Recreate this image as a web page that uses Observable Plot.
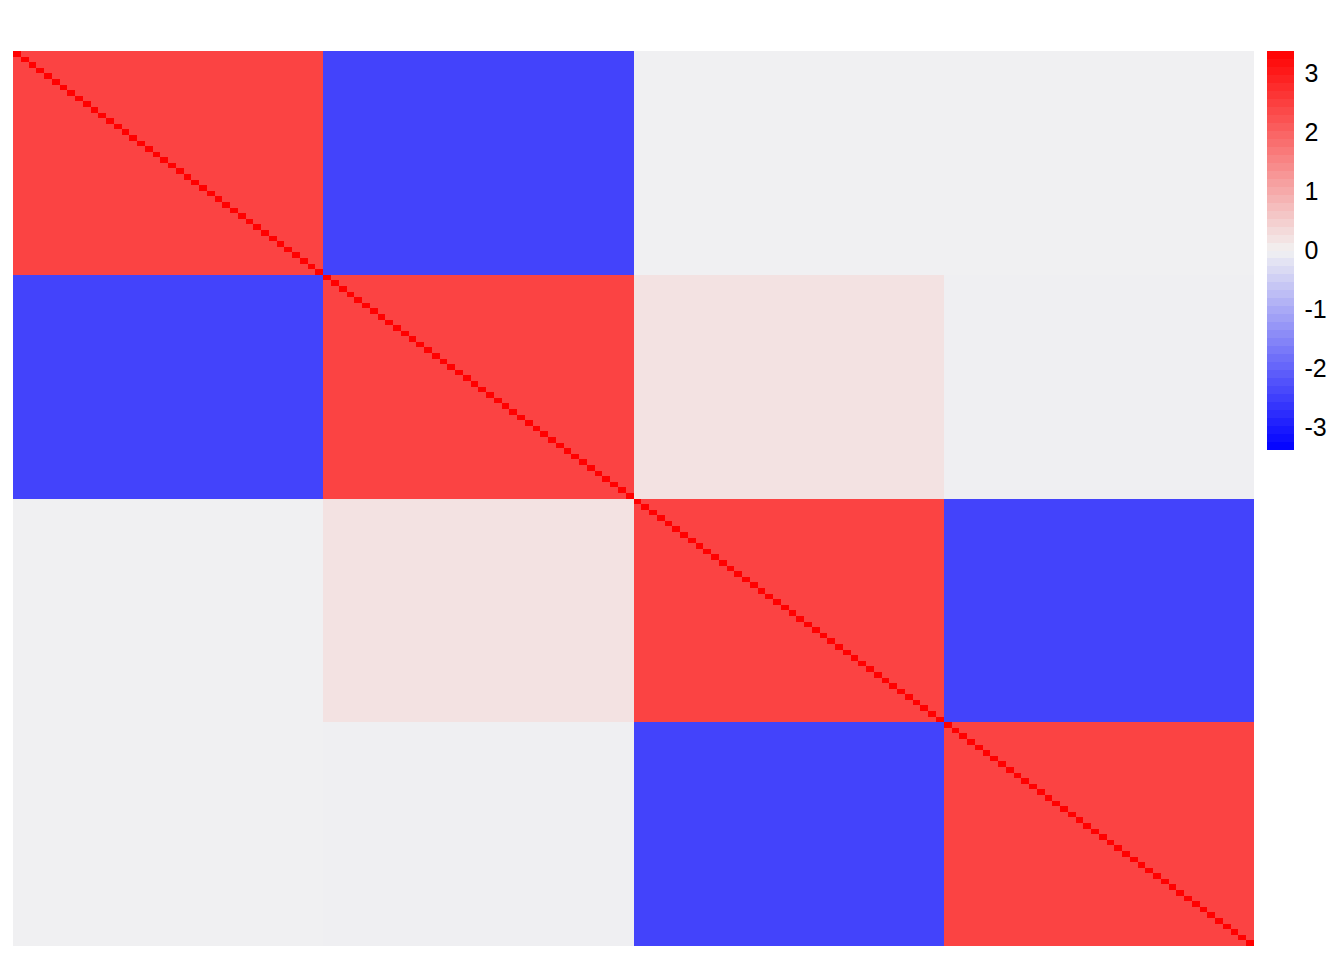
<!DOCTYPE html>
<html>
<head>
<meta charset="utf-8">
<script src="https://cdn.jsdelivr.net/npm/d3@7"></script>
<script src="https://cdn.jsdelivr.net/npm/@observablehq/plot@0.6"></script>
<style>
  html, body { margin: 0; padding: 0; background: #fff; }
  #wrap { position: relative; width: 1344px; height: 960px; }
  #wrap > svg { position: absolute; top: 0; }
</style>
</head>
<body>
<div id="wrap"></div>
<script>
// ---- data ----
const groups = ["A", "B", "C", "D"];
const cellsPerGroup = 40;
// mean value of each block (row group x column group)
const blockA = [2.45, -2.45, -0.03, -0.03];
const blockB = [-2.45, 2.45, 0.22, -0.04];
const blockC = [-0.03, 0.22, 2.45, -2.45];
const blockD = [-0.03, -0.04, -2.45, 2.45];
const diagonalValue = 3.39;
const colorDomain = [-3.39, 0, 3.39];
const colorRange = ["blue", "#F2F2F2", "red"];
const legendTicks = [-3, -2, -1, 0, 1, 2, 3];

const blocks = [blockA, blockB, blockC, blockD];
const n = groups.length * cellsPerGroup;
const cells = [];
for (let i = 0; i < n; i++) {
  for (let j = 0; j < n; j++) {
    const bi = Math.floor(i / cellsPerGroup), bj = Math.floor(j / cellsPerGroup);
    cells.push({row: i, col: j, value: i === j ? diagonalValue : blocks[bi][bj]});
  }
}

const colorOpts = {type: "linear", domain: colorDomain, range: colorRange, interpolate: "rgb"};

const main = Plot.plot({
  width: 1344, height: 960,
  marginLeft: 13, marginRight: 90, marginTop: 51, marginBottom: 14,
  x: {type: "band", domain: d3.range(n), padding: 0, axis: null},
  y: {type: "band", domain: d3.range(n), padding: 0, axis: null},
  color: colorOpts,
  marks: [
    Plot.cell(cells, {x: "col", y: "row", fill: "value", inset: 0, shapeRendering: "crispEdges"})
  ]
});
main.style.left = "0px";
document.getElementById("wrap").appendChild(main);

// legend: stepped color bar
const steps = 50;
const lo = colorDomain[0], hi = colorDomain[2];
const bands = d3.range(steps).map(k => {
  const y1 = lo + (hi - lo) * k / steps, y2 = lo + (hi - lo) * (k + 1) / steps;
  return {y1, y2, v: (y1 + y2) / 2};
});
const legend = Plot.plot({
  width: 84, height: 960,
  marginLeft: 7, marginRight: 50, marginTop: 51, marginBottom: 510,
  x: {domain: [0, 1], axis: null},
  y: {domain: [lo, hi]},
  color: colorOpts,
  style: {fontFamily: "Liberation Sans, Arial, sans-serif"},
  marks: [
    Plot.rect(bands, {x1: 0, x2: 1, y1: "y1", y2: "y2", fill: "v", shapeRendering: "crispEdges"}),
    Plot.axisY({anchor: "right", ticks: legendTicks, tickSize: 0, tickPadding: 10,
      fontSize: 25, fill: "black", tickFormat: d => String(d), label: null})
  ]
});
legend.style.left = "1260px";
document.getElementById("wrap").appendChild(legend);
</script>
</body>
</html>
